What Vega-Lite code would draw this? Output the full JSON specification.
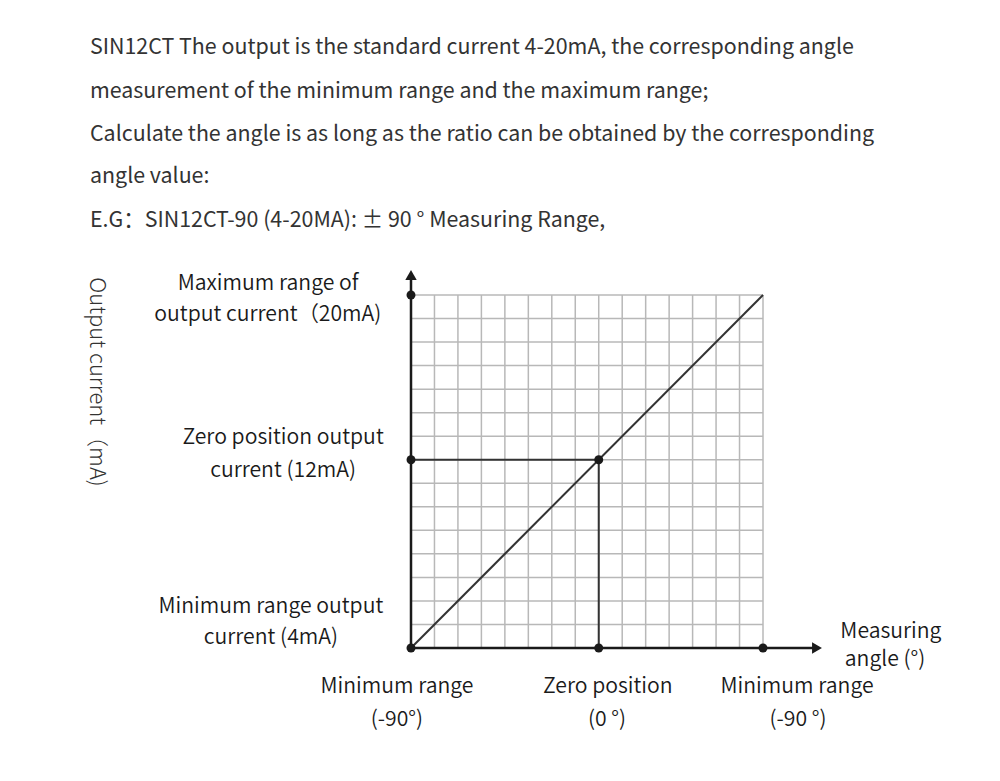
{
  "$schema": "https://vega.github.io/schema/vega-lite/v6.json",
  "autosize": "none",
  "width": 352,
  "height": 353,
  "padding": {"left": 411, "top": 295, "right": 237, "bottom": 133},
  "background": "white",
  "config": {
    "view": {"stroke": null},
    "font": "Noto Sans CJK SC",
    "text": {"font": "Noto Sans CJK SC"}
  },
  "layer": [
    {
      "data": {"values": [
        {"g": 0}, {"g": 1}, {"g": 2}, {"g": 3}, {"g": 4}, {"g": 5}, {"g": 6}, {"g": 7},
        {"g": 8}, {"g": 9}, {"g": 10}, {"g": 11}, {"g": 12}, {"g": 13}, {"g": 14}, {"g": 15}
      ]},
      "mark": {"type": "rule", "color": "#b8b8b8", "strokeWidth": 1.5},
      "encoding": {
        "x": {"field": "g", "type": "quantitative", "scale": {"domain": [0, 15], "nice": false, "zero": false}, "axis": null},
        "y": {"datum": 0, "type": "quantitative", "scale": {"domain": [0, 15], "nice": false, "zero": false}, "axis": null},
        "y2": {"datum": 15}
      }
    },
    {
      "data": {"values": [
        {"g": 0}, {"g": 1}, {"g": 2}, {"g": 3}, {"g": 4}, {"g": 5}, {"g": 6}, {"g": 7},
        {"g": 8}, {"g": 9}, {"g": 10}, {"g": 11}, {"g": 12}, {"g": 13}, {"g": 14}, {"g": 15}
      ]},
      "mark": {"type": "rule", "color": "#b8b8b8", "strokeWidth": 1.5},
      "encoding": {
        "y": {"field": "g", "type": "quantitative"},
        "x": {"datum": 0, "type": "quantitative"},
        "x2": {"datum": 15}
      }
    },
    {
      "data": {"values": [
        {"x1": 0, "y1": 0, "x2": 15, "y2": 15, "kind": "diag"},
        {"x1": 0, "y1": 8, "x2": 8, "y2": 8, "kind": "h"},
        {"x1": 8, "y1": 0, "x2": 8, "y2": 8, "kind": "v"}
      ]},
      "mark": {"type": "rule", "color": "#333333", "strokeWidth": 2},
      "encoding": {
        "x": {"field": "x1", "type": "quantitative"},
        "y": {"field": "y1", "type": "quantitative"},
        "x2": {"field": "x2"},
        "y2": {"field": "y2"}
      }
    },
    {
      "data": {"values": [
        {"x1": 0, "y1": 0, "x2": 0, "y2": 15.9},
        {"x1": 0, "y1": 0, "x2": 17.2, "y2": 0}
      ]},
      "mark": {"type": "rule", "color": "#1a1a1a", "strokeWidth": 2.5},
      "encoding": {
        "x": {"field": "x1", "type": "quantitative"},
        "y": {"field": "y1", "type": "quantitative"},
        "x2": {"field": "x2"},
        "y2": {"field": "y2"}
      }
    },
    {
      "data": {"values": [{"x": 0, "y": 15.85}]},
      "mark": {"type": "point", "shape": "triangle-up", "filled": true, "color": "#1a1a1a", "size": 130, "opacity": 1},
      "encoding": {"x": {"field": "x", "type": "quantitative"}, "y": {"field": "y", "type": "quantitative"}}
    },
    {
      "data": {"values": [{"x": 17.3, "y": 0}]},
      "mark": {"type": "point", "shape": "triangle-right", "filled": true, "color": "#1a1a1a", "size": 130, "opacity": 1},
      "encoding": {"x": {"field": "x", "type": "quantitative"}, "y": {"field": "y", "type": "quantitative"}}
    },
    {
      "data": {"values": [
        {"x": 0, "y": 0}, {"x": 0, "y": 8}, {"x": 0, "y": 15},
        {"x": 8, "y": 8}, {"x": 8, "y": 0}, {"x": 15, "y": 0}
      ]},
      "mark": {"type": "circle", "color": "#1a1a1a", "size": 80, "opacity": 1},
      "encoding": {"x": {"field": "x", "type": "quantitative"}, "y": {"field": "y", "type": "quantitative"}}
    },
    {
      "data": {"values": [
        {"x": -13.68, "y": 25.5, "t": "SIN12CT The output is the standard current 4-20mA, the corresponding angle"},
        {"x": -13.68, "y": 23.63, "t": "measurement of the minimum range and the maximum range;"},
        {"x": -13.68, "y": 21.8, "t": "Calculate the angle is as long as the ratio can be obtained by the corresponding"},
        {"x": -13.68, "y": 20.02, "t": "angle value:"},
        {"x": -13.68, "y": 18.15, "t": "E.G：SIN12CT-90 (4-20MA): ± 90 ° Measuring Range,"}
      ]},
      "mark": {"type": "text", "align": "left", "baseline": "middle", "fontSize": 21.4, "color": "#333333"},
      "encoding": {"x": {"field": "x", "type": "quantitative"}, "y": {"field": "y", "type": "quantitative"}, "text": {"field": "t"}}
    },
    {
      "data": {"values": [
        {"x": -6.09, "y": 15.47, "t": "Maximum range of"},
        {"x": -6.1, "y": 14.15, "t": "output current（20mA)"},
        {"x": -5.45, "y": 8.92, "t": "Zero position output"},
        {"x": -5.45, "y": 7.52, "t": "current (12mA)"},
        {"x": -5.97, "y": 1.74, "t": "Minimum range output"},
        {"x": -5.97, "y": 0.42, "t": "current (4mA)"},
        {"x": 20.45, "y": 0.7, "t": "Measuring"},
        {"x": 20.2, "y": -0.5, "t": "angle (°)"},
        {"x": -0.6, "y": -1.66, "t": "Minimum range"},
        {"x": -0.6, "y": -3.06, "t": "(-90°)"},
        {"x": 8.39, "y": -1.66, "t": "Zero position"},
        {"x": 8.35, "y": -3.06, "t": "(0 °)"},
        {"x": 16.45, "y": -1.66, "t": "Minimum range"},
        {"x": 16.49, "y": -3.06, "t": "(-90 °)"}
      ]},
      "mark": {"type": "text", "align": "center", "baseline": "middle", "fontSize": 21.2, "fontWeight": 350, "color": "#1a1a1a"},
      "encoding": {"x": {"field": "x", "type": "quantitative"}, "y": {"field": "y", "type": "quantitative"}, "text": {"field": "t"}}
    },
    {
      "data": {"values": [{"x": -13.38, "y": 11.3, "t": "Output current（mA)"}]},
      "mark": {"type": "text", "align": "center", "baseline": "middle", "fontSize": 22, "fontWeight": 300, "angle": 90, "color": "#333333"},
      "encoding": {"x": {"field": "x", "type": "quantitative"}, "y": {"field": "y", "type": "quantitative"}, "text": {"field": "t"}}
    }
  ]
}
